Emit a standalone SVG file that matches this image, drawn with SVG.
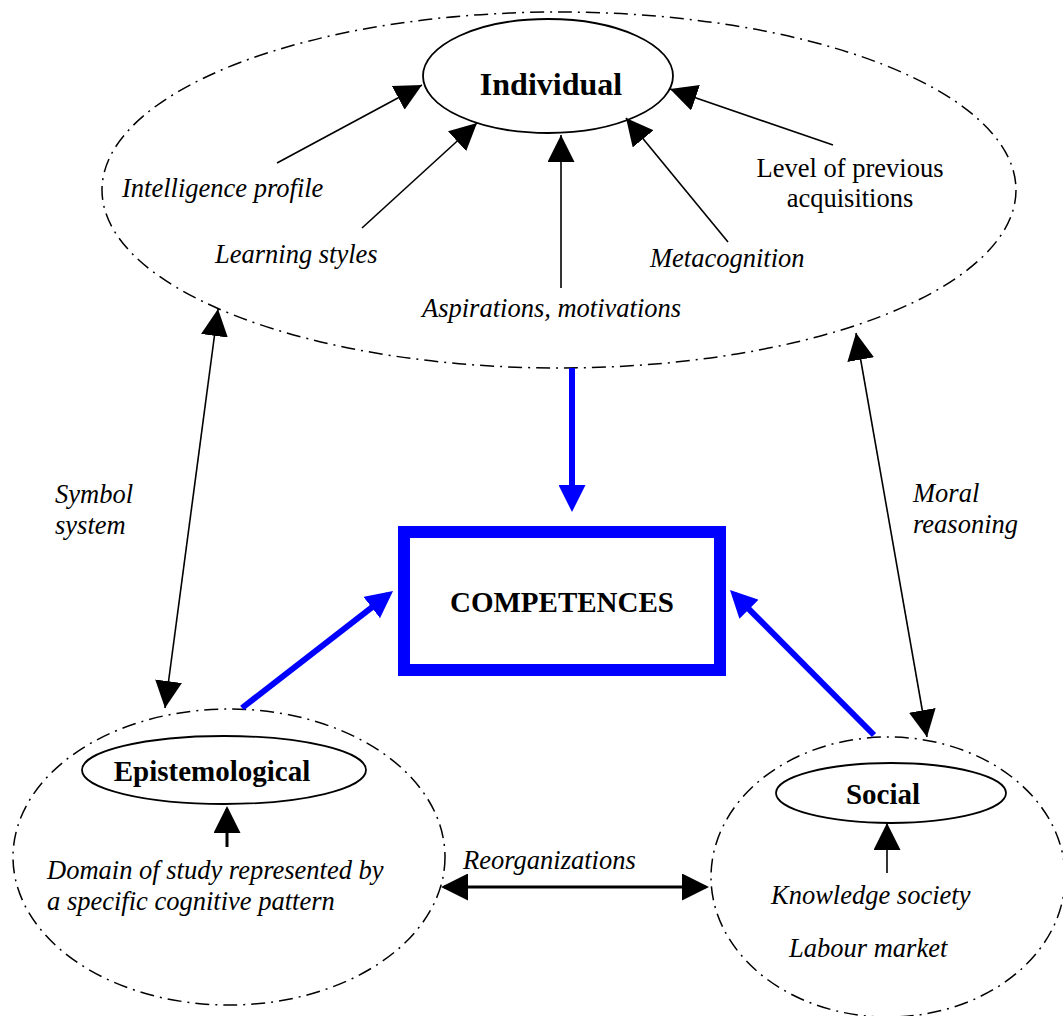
<svg xmlns="http://www.w3.org/2000/svg" width="1063" height="1016" viewBox="0 0 1063 1016">
<style>
.bg{fill:#fff}
.zone{fill:none;stroke:#000;stroke-width:1.5;stroke-dasharray:14 6 2 6}
.node{fill:#fff;stroke:#000;stroke-width:1.8}
.box{fill:#fff;stroke:#0000ff;stroke-width:12}
.lbl{font-family:"Liberation Serif","Times New Roman",serif;font-size:26.5px;fill:#000}
.it{font-style:italic}
.bold{font-weight:bold}
.c{text-anchor:middle}
.ln{fill:none;stroke:#000;stroke-width:1.6}
.lnk{fill:none;stroke:#000;stroke-width:3}
.bl{fill:none;stroke:#0000ff;stroke-width:6}
</style>
<defs>
<marker id="ah" viewBox="0 0 27 27" refX="27" refY="13.5" markerWidth="27" markerHeight="27" markerUnits="userSpaceOnUse" orient="auto-start-reverse"><path d="M0,0 L27,13.5 L0,27 z" fill="#000"/></marker>
<marker id="ahk" viewBox="0 0 27 27" refX="24" refY="13.5" markerWidth="27" markerHeight="27" markerUnits="userSpaceOnUse" orient="auto-start-reverse"><path d="M0,0 L27,13.5 L0,27 z" fill="#000"/></marker>
<marker id="ahb" viewBox="0 0 27 27" refX="21" refY="13.5" markerWidth="27" markerHeight="27" markerUnits="userSpaceOnUse" orient="auto"><path d="M0,0 L27,13.5 L0,27 z" fill="#0000ff"/></marker>
</defs>
<rect class="bg" x="0" y="0" width="1063" height="1016"/>

<g id="zone-individual">
<ellipse class="zone" cx="559" cy="190" rx="457" ry="178"/>
<text class="lbl it" x="122" y="197">Intelligence profile</text>
<text class="lbl it" x="215" y="263">Learning styles</text>
<text class="lbl it" x="422" y="317">Aspirations, motivations</text>
<text class="lbl it" x="650" y="267">Metacognition</text>
<text class="lbl c" x="850" y="177">Level of previous</text>
<text class="lbl c" x="850" y="207">acquisitions</text>
</g>

<g id="node-individual">
<ellipse class="node" cx="548" cy="76" rx="125" ry="57"/>
<text class="lbl bold c" x="551" y="95" style="font-size:32px">Individual</text>
</g>

<g id="node-competences">
<rect class="box" x="404" y="532" width="316" height="138"/>
<text class="lbl bold c" x="562" y="612" style="font-size:29px">COMPETENCES</text>
</g>

<g id="zone-epistemological">
<ellipse class="zone" cx="229" cy="857" rx="216" ry="148"/>
<text class="lbl it" x="47" y="879">Domain of study represented by</text>
<text class="lbl it" x="47" y="910">a specific cognitive pattern</text>
</g>

<g id="node-epistemological">
<ellipse class="node" cx="224" cy="770" rx="142" ry="34"/>
<text class="lbl bold c" x="212" y="781" style="font-size:29px">Epistemological</text>
</g>

<g id="zone-social">
<ellipse class="zone" cx="888" cy="877" rx="177" ry="140"/>
<text class="lbl it" x="771" y="904">Knowledge society</text>
<text class="lbl it" x="789" y="957">Labour market</text>
</g>

<g id="node-social">
<ellipse class="node" cx="891" cy="793" rx="115" ry="30"/>
<text class="lbl bold c" x="883" y="804" style="font-size:29px">Social</text>
</g>

<g id="connectors">
<line class="ln" x1="277" y1="163" x2="422" y2="85" marker-end="url(#ah)"/>
<line class="ln" x1="362" y1="228" x2="477" y2="123" marker-end="url(#ah)"/>
<line class="ln" x1="561" y1="288" x2="561" y2="135" marker-end="url(#ah)"/>
<line class="ln" x1="728" y1="242" x2="626" y2="118" marker-end="url(#ah)"/>
<line class="ln" x1="833" y1="145" x2="670" y2="89" marker-end="url(#ah)"/>
<line class="ln" x1="218" y1="309" x2="165" y2="708" marker-start="url(#ah)" marker-end="url(#ah)"/>
<line class="ln" x1="856" y1="333" x2="927" y2="737" marker-start="url(#ah)" marker-end="url(#ah)"/>
<line class="lnk" x1="227" y1="847" x2="227" y2="809" marker-end="url(#ahk)"/>
<line class="ln" x1="887" y1="873" x2="887" y2="823" marker-end="url(#ah)"/>
<line class="lnk" x1="444" y1="887" x2="706" y2="887" marker-start="url(#ahk)" marker-end="url(#ahk)"/>
<line class="bl" x1="572" y1="368" x2="572" y2="506" marker-end="url(#ahb)"/>
<line class="bl" x1="242" y1="708" x2="388.3" y2="594.7" marker-end="url(#ahb)"/>
<line class="bl" x1="874" y1="735" x2="734.2" y2="594.3" marker-end="url(#ahb)"/>
<text class="lbl it" x="55" y="503">Symbol</text>
<text class="lbl it" x="55" y="534">system</text>
<text class="lbl it" x="913" y="502">Moral</text>
<text class="lbl it" x="913" y="533">reasoning</text>
<text class="lbl it" x="463" y="869">Reorganizations</text>
</g>
</svg>
